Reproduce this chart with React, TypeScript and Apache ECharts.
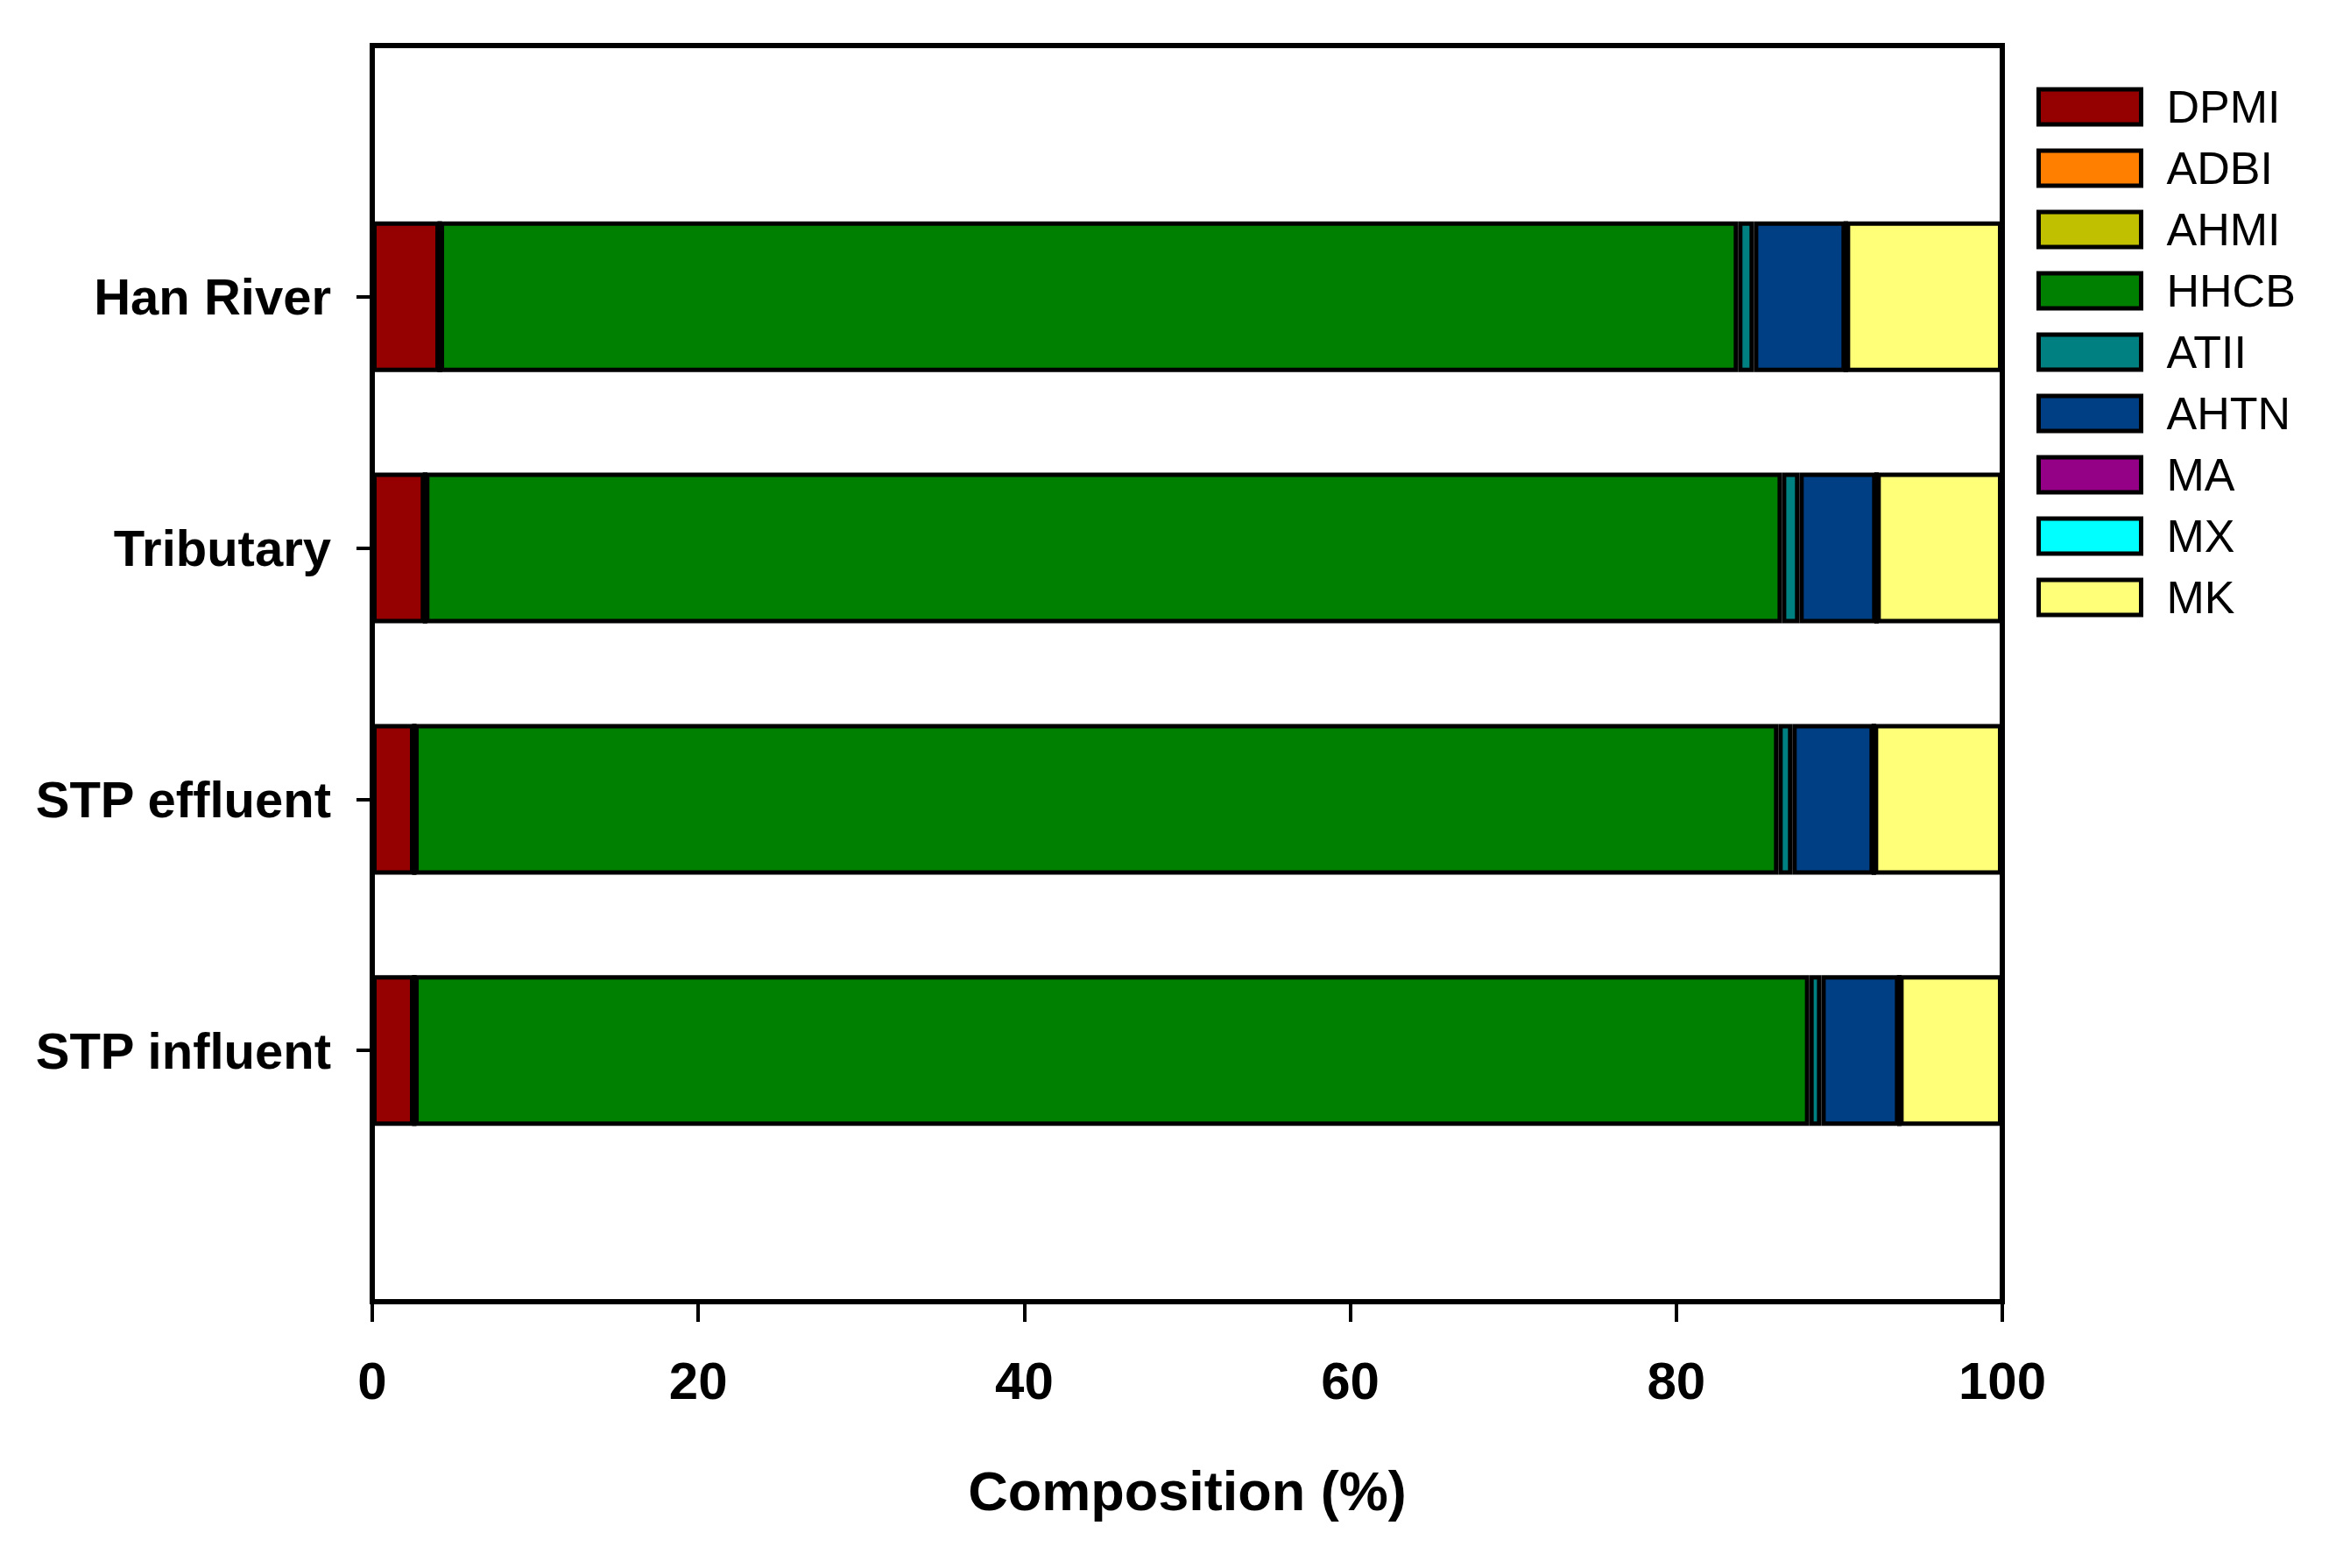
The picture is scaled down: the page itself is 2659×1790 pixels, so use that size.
import React, { useEffect, useRef } from "react";
import * as echarts from "echarts";

const categories = ["", "STP influent", "STP effluent", "Tributary", "Han River", ""];
const seriesNames = ["DPMI", "ADBI", "AHMI", "HHCB", "ATII", "AHTN", "MA", "MX", "MK"];
const seriesColors = ["#950000", "#FF8000", "#C0C000", "#008000", "#008080", "#003F83", "#940086", "#00FFFF", "#FFFF78"];
// values per series, ordered as categories (bottom to top); '-' for padding slots
const DPMI = ["-", 2.58, 2.58, 3.24, 4.14, "-"];
const ADBI = ["-", 0, 0, 0, 0, "-"];
const AHMI = ["-", 0, 0, 0, 0, "-"];
const HHCB = ["-", 85.58, 83.68, 83.24, 79.65, "-"];
const ATII = ["-", 0.74, 0.86, 1.07, 0.97, "-"];
const AHTN = ["-", 4.78, 5.0, 4.73, 5.64, "-"];
const MA = ["-", 0, 0, 0, 0, "-"];
const MX = ["-", 0, 0, 0, 0, "-"];
const MK = ["-", 6.32, 7.88, 7.72, 9.6, "-"];
const seriesValues = [DPMI, ADBI, AHMI, HHCB, ATII, AHTN, MA, MX, MK];
const xTicks = [0, 20, 40, 60, 80, 100];

const FONT = "'Liberation Sans', Arial, sans-serif";

export default function App() {
  const ref = useRef<HTMLDivElement>(null);
  useEffect(() => {
    if (!ref.current) return;
    const chart = echarts.init(ref.current, undefined, { renderer: "svg" });
    chart.setOption({
      animation: false,
      backgroundColor: "#ffffff",
      grid: {
        left: 425,
        top: 52,
        width: 1861,
        height: 1434,
        show: true,
        borderColor: "#000",
        borderWidth: 6,
        backgroundColor: "transparent",
      },
      legend: {
        orient: "vertical",
        left: 2325,
        top: 96,
        padding: 0,
        itemWidth: 117,
        itemHeight: 40,
        itemGap: 18,
        icon: "rect",
        data: seriesNames,
        itemStyle: { borderColor: "#000", borderWidth: 5 },
        textStyle: {
          fontFamily: FONT,
          fontSize: 52,
          color: "#000",
          padding: [0, 0, 0, 24],
        },
      },
      xAxis: {
        type: "value",
        min: xTicks[0],
        max: xTicks[xTicks.length - 1],
        interval: 20,
        name: "Composition (%)",
        nameLocation: "middle",
        nameGap: 184,
        nameTextStyle: {
          fontFamily: FONT,
          fontSize: 63,
          fontWeight: "bold",
          color: "#000",
        },
        axisLine: { show: true, lineStyle: { color: "#000", width: 6 } },
        axisTick: { show: true, inside: false, length: 23, lineStyle: { color: "#000", width: 4 } },
        axisLabel: {
          fontFamily: FONT,
          fontSize: 60,
          fontWeight: "bold",
          color: "#000",
          margin: 60,
        },
        splitLine: { show: false },
      },
      yAxis: {
        type: "category",
        data: categories,
        boundaryGap: false,
        axisLine: { show: true, lineStyle: { color: "#000", width: 6 } },
        axisTick: {
          show: true,
          inside: false,
          length: 18,
          interval: (i: number) => i > 0 && i < categories.length - 1,
          lineStyle: { color: "#000", width: 4 },
        },
        axisLabel: {
          fontFamily: FONT,
          fontSize: 58,
          fontWeight: "bold",
          color: "#000",
          margin: 47,
          interval: 0,
        },
        splitLine: { show: false },
      },
      series: seriesNames.map((name, i) => ({
        name,
        type: "bar",
        stack: "total",
        barWidth: 172,
        data: seriesValues[i],
        itemStyle: {
          color: seriesColors[i],
          borderColor: "#000",
          borderWidth: 5,
        },
      })),
    });
    return () => chart.dispose();
  }, []);
  return (
    <div
      ref={ref}
      style={{ position: "fixed", left: 0, top: 0, width: 2659, height: 1790, background: "#fff" }}
    />
  );
}
